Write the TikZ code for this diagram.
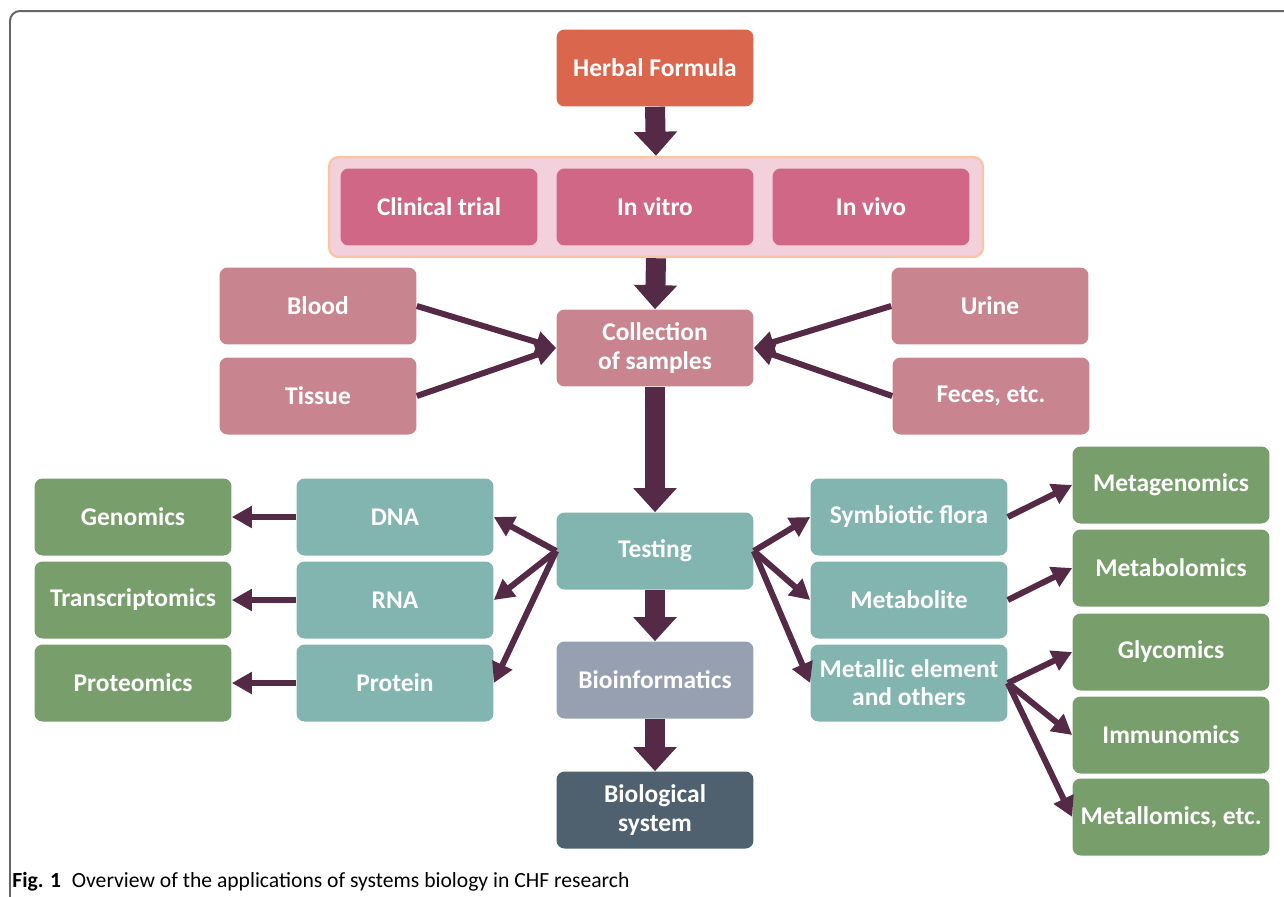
\documentclass[tikz,border=0pt]{standalone}
\usepackage{fontspec}
\setmainfont{Carlito}
\usetikzlibrary{arrows.meta}
\definecolor{plum}{HTML}{542A46}
\definecolor{herbal}{HTML}{DA664E}
\definecolor{study}{HTML}{D06787}
\definecolor{grpfill}{HTML}{F3D1DC}
\definecolor{grpline}{HTML}{F8C6A6}
\definecolor{sample}{HTML}{C8848F}
\definecolor{teal}{HTML}{82B5B0}
\definecolor{bioinf}{HTML}{96A0B1}
\definecolor{biosys}{HTML}{4F616F}
\definecolor{omics}{HTML}{789F6B}
\definecolor{frame}{gray}{0.4}

\begin{document}
\begin{tikzpicture}[x=0.02cm, y=-0.02cm,
  box/.style={rounded corners=0.16cm, minimum width=3.94cm, minimum height=1.54cm,
    text=white, align=center, inner sep=0pt, font=\bfseries\fontsize{14.5}{16}\selectfont},
  thickarr/.style={draw=plum, line width=0.4cm, -{Triangle[length=0.48cm, width=0.84cm]}},
  thinarr/.style={draw=plum, line width=0.12cm, -{Triangle[length=0.4cm, width=0.42cm]}}]

  \useasboundingbox (0, 0) rectangle (1284, 896);
  \draw [color=frame, line width=0.04cm, rounded corners=0.2cm] (10, 920) |- (1300, 11);

  % top: formula and studies
  \node[box, fill=herbal] (formula) at (655, 68) {Herbal Formula};
  \node[draw=grpline, fill=grpfill, line width=0.05cm, rounded corners=0.2cm,
    minimum width=13.08cm, minimum height=2cm] (studies) at (656, 207) {};
  \node[box, fill=study] (clinical) at (439, 207) {Clinical trial};
  \node[box, fill=study] (vitro) at (655, 207) {In vitro};
  \node[box, fill=study] (vivo) at (871, 207) {In vivo};

  % samples
  \node[box, fill=sample] (blood) at (318, 306) {Blood};
  \node[box, fill=sample] (tissue) at (318, 396) {Tissue};
  \node[box, fill=sample] (collect) at (655, 348) {Collection\\of samples};
  \node[box, fill=sample] (urine) at (990, 306) {Urine};
  \node[box, fill=sample] (feces) at (991, 396) {Feces, etc.};

  % testing and below
  \node[box, fill=teal] (testing) at (655, 551) {Testing};
  \node[box, fill=bioinf] (bioinfo) at (655, 680) {Bioinformatics};
  \node[box, fill=biosys] (biosys) at (655, 810) {Biological\\system};

  % left branch
  \node[box, fill=teal] (dna) at (395, 517) {DNA};
  \node[box, fill=teal] (rna) at (395, 600) {RNA};
  \node[box, fill=teal] (protein) at (395, 683) {Protein};
  \node[box, fill=omics] (genomics) at (133, 517) {Genomics};
  \node[box, fill=omics] (transcript) at (133, 600) {Transcriptomics};
  \node[box, fill=omics] (proteomics) at (133, 683) {Proteomics};

  % right branch
  \node[box, fill=teal] (flora) at (909, 517) {Symbiotic flora};
  \node[box, fill=teal] (metabolite) at (909, 600) {Metabolite};
  \node[box, fill=teal] (metallic) at (909, 683) {Metallic element\\and others};
  \node[box, fill=omics] (metagen) at (1171, 485) {Metagenomics};
  \node[box, fill=omics] (metabol) at (1171, 568) {Metabolomics};
  \node[box, fill=omics] (glyco) at (1171, 652) {Glycomics};
  \node[box, fill=omics] (immuno) at (1171, 735) {Immunomics};
  \node[box, fill=omics] (metallo) at (1171, 817) {Metallomics, etc.};

  % main flow
  \draw [thickarr] (formula.south) -- (studies.north);
  \draw [thickarr] (studies.south) -- (collect.north);
  \draw [thickarr] (collect.south) -- (testing.north);
  \draw [thickarr] (testing.south) -- (bioinfo.north);
  \draw [thickarr] (bioinfo.south) -- (biosys.north);

  \draw [thinarr] (blood.east) -- (collect.west);
  \draw [thinarr] (tissue.east) -- (collect.west);
  \draw [thinarr] (urine.west) -- (collect.east);
  \draw [thinarr] (feces.west) -- (collect.east);

  \draw [thinarr] (testing.west) -- (dna.east);
  \draw [thinarr] (testing.west) -- (rna.east);
  \draw [thinarr] (testing.west) -- (protein.east);
  \draw [thinarr] (dna.west) -- (genomics.east);
  \draw [thinarr] (rna.west) -- (transcript.east);
  \draw [thinarr] (protein.west) -- (proteomics.east);

  \draw [thinarr] (testing.east) -- (flora.west);
  \draw [thinarr] (testing.east) -- (metabolite.west);
  \draw [thinarr] (testing.east) -- (metallic.west);
  \draw [thinarr] (flora.east) -- (metagen.west);
  \draw [thinarr] (metabolite.east) -- (metabol.west);
  \draw [thinarr] (metallic.east) -- (glyco.west);
  \draw [thinarr] (metallic.east) -- (immuno.west);
  \draw [thinarr] (metallic.east) -- (metallo.west);

  \node[anchor=base west, inner sep=0pt, font=\fontsize{12.3}{15}\selectfont] (caption) at (12, 887)
    {\textbf{Fig. 1}\hspace{0.5em}Overview of the applications of systems biology in CHF research};

\end{tikzpicture}
\end{document}
